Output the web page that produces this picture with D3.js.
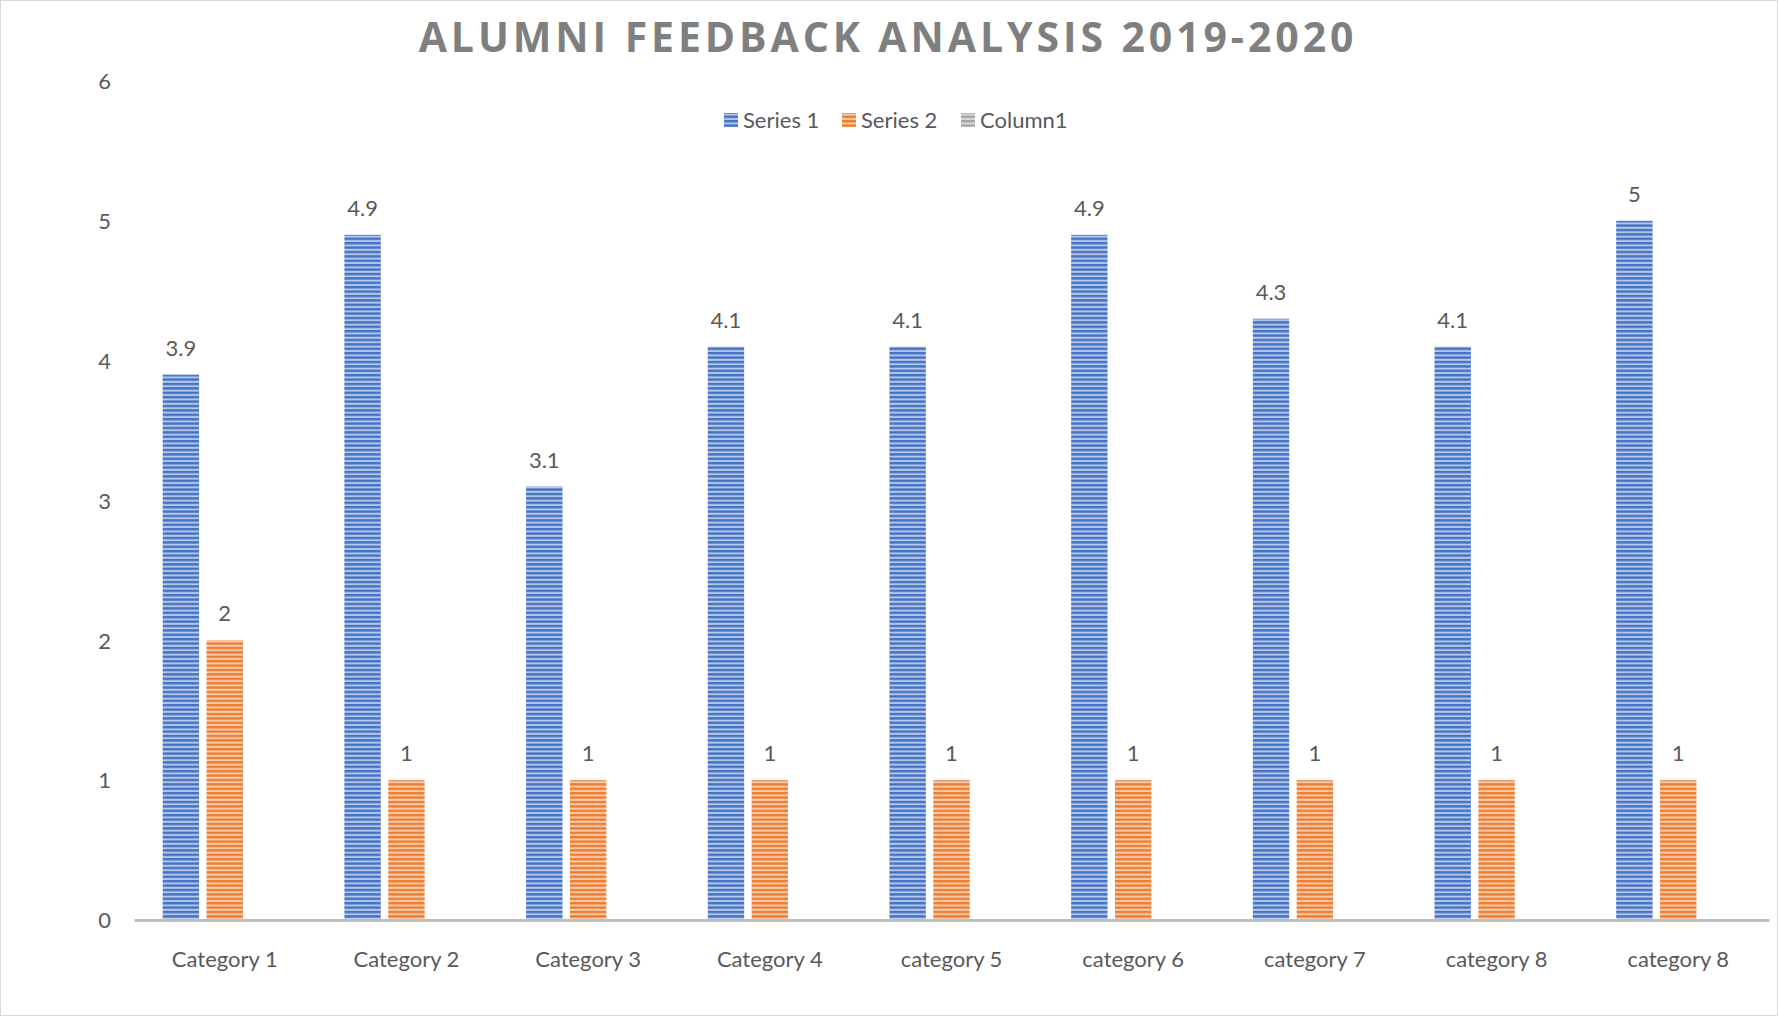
<!DOCTYPE html>
<html>
<head>
<meta charset="utf-8">
<script src="https://cdn.jsdelivr.net/npm/d3@7"></script>
<style>
  html, body { margin: 0; padding: 0; background: #fff; }
  svg { display: block; }
  text { font-family: Lato, "Open Sans", sans-serif; fill: #595959; }
</style>
</head>
<body>
<div id="chart"></div>
<script>
// --- data ---
const categories = ["Category 1", "Category 2", "Category 3", "Category 4", "category 5",
                    "category 6", "category 7", "category 8", "category 8"];
const seriesNames = ["Series 1", "Series 2", "Column1"];
const series1 = [3.9, 4.9, 3.1, 4.1, 4.1, 4.9, 4.3, 4.1, 5];
const series2 = [2, 1, 1, 1, 1, 1, 1, 1, 1];
const column1 = [null, null, null, null, null, null, null, null, null];
const yTicks = [0, 1, 2, 3, 4, 5, 6];

const seriesValues = [series1, series2, column1];
const colors = { "Series 1": ["#4472c4", "#b4c7e7"], "Series 2": ["#ed7d31", "#f8cbad"], "Column1": ["#a5a5a5", "#dbdbdb"] };

const width = 1778, height = 1016;
const margin = { top: 81, right: 9, bottom: 96, left: 134 };

const svg = d3.select("#chart").append("svg")
    .attr("width", width)
    .attr("height", height);

// Streifenmuster wie im Original (schmale horizontale Linien)
const defs = svg.append("defs");
seriesNames.forEach((name, i) => {
    const p = defs.append("pattern")
        .attr("id", "stripe" + i)
        .attr("patternUnits", "userSpaceOnUse")
        .attr("width", 8).attr("height", 4.4);
    p.append("rect").attr("width", 8).attr("height", 4.4).attr("fill", colors[name][1]);
    p.append("rect").attr("width", 8).attr("height", 2.4).attr("fill", colors[name][0]);
});

// Rahmen
svg.append("rect")
    .attr("x", 0.5).attr("y", 0.5)
    .attr("width", width - 1).attr("height", height - 1)
    .attr("fill", "#fff").attr("stroke", "#d9d9d9");

const x0 = d3.scaleBand()
    .domain(d3.range(categories.length))
    .range([margin.left, width - margin.right])
    .paddingInner(0.317)
    .paddingOuter(0.158);

const x1 = d3.scaleBand()
    .domain(seriesNames)
    .range([0, x0.bandwidth()])
    .paddingInner(0.17);

const y = d3.scaleLinear()
    .domain([0, 6])
    .range([height - margin.bottom, margin.top]);

// Titel
svg.append("text")
    .attr("x", 888).attr("y", 52)
    .attr("text-anchor", "middle")
    .style("font-family", "'Open Sans', sans-serif")
    .style("font-weight", 700)
    .style("font-size", "41px")
    .style("letter-spacing", "3.9px")
    .style("fill", "#7f7f7f")
    .text("ALUMNI FEEDBACK ANALYSIS 2019-2020");

// y-Achse (nur Beschriftung)
const yAxis = svg.append("g")
    .attr("transform", `translate(${margin.left - 23},0)`)
    .call(d3.axisLeft(y).tickValues(yTicks).tickSize(0).tickPadding(0).tickFormat(d3.format("d")));
yAxis.select(".domain").remove();
yAxis.selectAll("text")
    .style("font-family", "Lato, sans-serif")
    .style("font-size", "22px")
    .attr("fill", "#595959")
    .attr("dy", "0.35em");

// Balken
const groups = svg.append("g").selectAll("g")
    .data(categories.map((c, i) => i))
    .join("g")
    .attr("transform", i => `translate(${x0(i)},0)`);

groups.selectAll("rect")
    .data(i => seriesNames.map((s, k) => ({ s, k, v: seriesValues[k][i] })).filter(d => d.v != null))
    .join("rect")
    .attr("x", d => x1(d.s))
    .attr("y", d => y(d.v))
    .attr("width", x1.bandwidth())
    .attr("height", d => y(0) - y(d.v))
    .attr("fill", d => `url(#stripe${d.k})`);

groups.selectAll("text.lbl")
    .data(i => seriesNames.map((s, k) => ({ s, k, v: seriesValues[k][i] })).filter(d => d.v != null))
    .join("text")
    .attr("class", "lbl")
    .attr("x", d => x1(d.s) + x1.bandwidth() / 2)
    .attr("y", d => y(d.v) - 19)
    .attr("text-anchor", "middle")
    .style("font-size", "22px")
    .text(d => d.v);

// x-Achse
const xAxis = svg.append("g")
    .attr("transform", `translate(0,${y(0)})`)
    .call(d3.axisBottom(x0).tickSize(0).tickPadding(0).tickFormat(i => categories[i]));
xAxis.select(".domain")
    .attr("stroke", "#bfbfbf")
    .attr("stroke-width", 3);
xAxis.selectAll("text")
    .style("font-family", "Lato, sans-serif")
    .style("font-size", "22px")
    .attr("fill", "#595959")
    .attr("dy", 0)
    .attr("y", 47);

// Legende
const legendItems = [
    { name: "Series 1", x: 724 },
    { name: "Series 2", x: 842 },
    { name: "Column1", x: 961 }
];
const legend = svg.append("g").selectAll("g")
    .data(legendItems)
    .join("g")
    .attr("transform", d => `translate(${d.x},120)`);
legend.append("rect")
    .attr("y", -7).attr("width", 14).attr("height", 14)
    .attr("fill", (d, i) => `url(#stripe${i})`);
legend.append("text")
    .attr("x", 19).attr("y", 0).attr("dy", "0.35em")
    .style("font-size", "22px")
    .text(d => d.name);
</script>
</body>
</html>
